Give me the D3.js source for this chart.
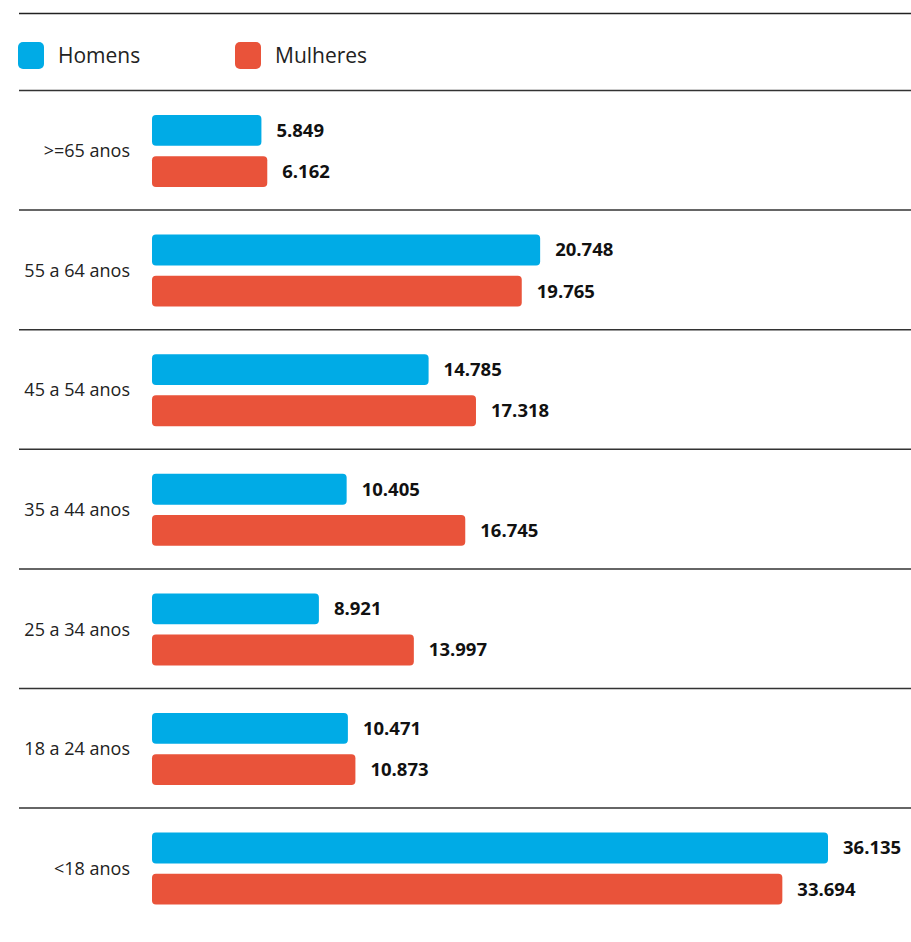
<!DOCTYPE html>
<html>
<head>
<meta charset="utf-8">
<script src="https://cdn.jsdelivr.net/npm/d3@7"></script>
<style>
  body { margin: 0; background: #fff; }
  svg { display: block; font-family: "Open Sans", sans-serif; }
</style>
</head>
<body>
<div id="chart"></div>
<script>
const categories = [">=65 anos", "55 a 64 anos", "45 a 54 anos", "35 a 44 anos", "25 a 34 anos", "18 a 24 anos", "<18 anos"];
const homens = [5849, 20748, 14785, 10405, 8921, 10471, 36135];
const mulheres = [6162, 19765, 17318, 16745, 13997, 10873, 33694];
const seriesNames = ["Homens", "Mulheres"];
const colors = ["#00abe6", "#e9533a"];

const width = 911, height = 942;
const barLeft = 152;

const svg = d3.select("#chart").append("svg")
	.attr("width", width)
	.attr("height", height);

const x = d3.scaleLinear([0, 36135], [barLeft, 828]);
const y = d3.scaleBand(categories, [90, 90 + 7 * 119.6]);
const ySub = d3.scaleBand(seriesNames, [25, 97]).paddingInner(0.25);
const fmt = d3.format(",");
const label = (v) => fmt(v).replace(/,/g, ".");

// top rule
svg.append("line")
	.attr("x1", 19).attr("x2", width)
	.attr("y1", 13.5).attr("y2", 13.5)
	.attr("stroke", "#222").attr("stroke-width", 1.5);

// legend
const legend = svg.append("g").attr("class", "legend");
const legendX = [18, 235];
seriesNames.forEach((name, i) => {
	const g = legend.append("g").attr("transform", `translate(${legendX[i]},42)`);
	g.append("rect")
		.attr("width", 26).attr("height", 27)
		.attr("rx", 5)
		.attr("fill", colors[i]);
	g.append("text")
		.attr("x", 40).attr("y", 14)
		.attr("dy", "0.35em")
		.attr("font-size", 21)
		.attr("fill", "#222")
		.text(name);
});

// row separators
svg.append("g").selectAll("line")
	.data(categories)
	.join("line")
	.attr("x1", 19).attr("x2", width)
	.attr("y1", (d) => y(d) + 0.5).attr("y2", (d) => y(d) + 0.5)
	.attr("stroke", "#333").attr("stroke-width", 1.5);

const rows = svg.append("g").selectAll("g.row")
	.data(categories.map((c, i) => ({ cat: c, vals: [homens[i], mulheres[i]] })))
	.join("g")
	.attr("class", "row")
	.attr("transform", (d) => `translate(0,${y(d.cat)})`);

rows.append("text")
	.attr("x", 130)
	.attr("y", ySub("Homens") + (ySub("Mulheres") + ySub.bandwidth() - ySub("Homens")) / 2)
	.attr("dy", "0.35em")
	.attr("text-anchor", "end")
	.attr("font-size", 18)
	.attr("fill", "#222")
	.text((d) => d.cat);

const bars = rows.selectAll("g.bar")
	.data((d) => d.vals.map((v, i) => ({ v, s: seriesNames[i], i })))
	.join("g")
	.attr("class", "bar");

bars.append("rect")
	.attr("x", x(0))
	.attr("y", (d) => ySub(d.s))
	.attr("width", (d) => x(d.v) - x(0))
	.attr("height", ySub.bandwidth())
	.attr("rx", 4)
	.attr("fill", (d) => colors[d.i]);

bars.append("text")
	.attr("x", (d) => x(d.v) + 15)
	.attr("y", (d) => ySub(d.s) + ySub.bandwidth() / 2)
	.attr("dy", "0.35em")
	.attr("font-size", 18.5)
	.attr("font-weight", "bold")
	.attr("fill", "#111")
	.text((d) => label(d.v));
</script>
</body>
</html>
